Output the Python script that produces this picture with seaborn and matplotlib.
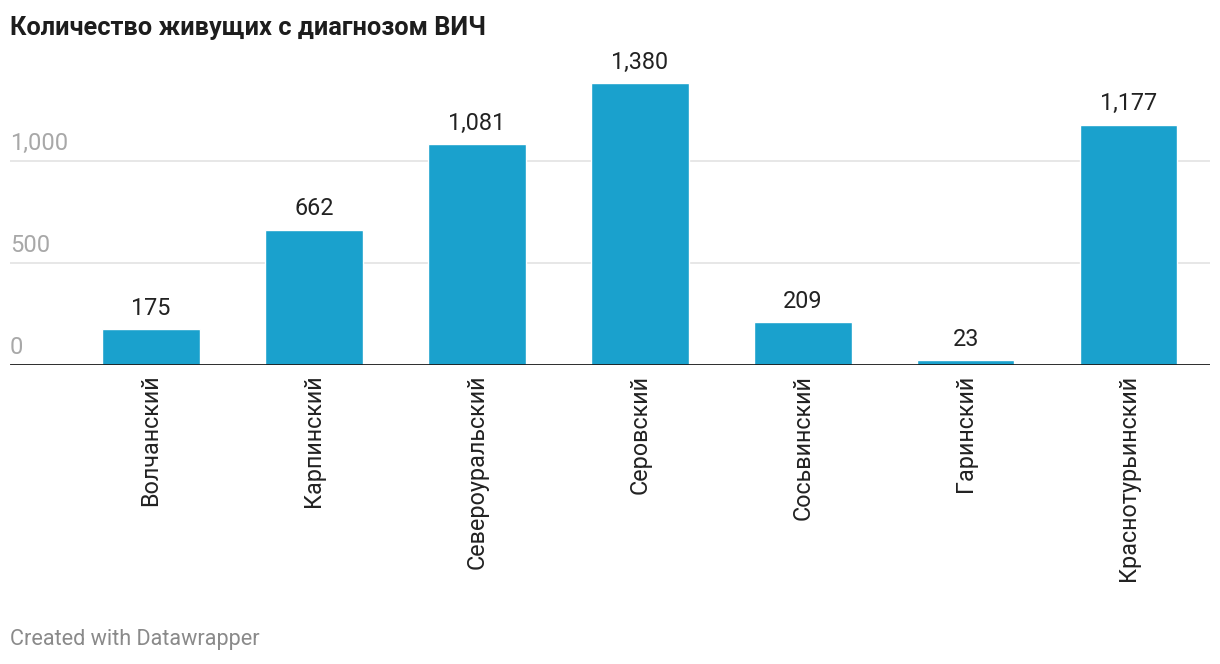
import pandas as pd
import matplotlib
matplotlib.use("Agg")
import matplotlib.pyplot as plt
import seaborn as sns

# данные
districts = ["Волчанский", "Карпинский", "Североуральский", "Серовский",
             "Сосьвинский", "Гаринский", "Краснотурьинский"]
values = [175, 662, 1081, 1380, 209, 23, 1177]
y_ticks = [0, 500, 1000]
y_tick_labels = ["0", "500", "1,000"]

df = pd.DataFrame({"district": districts, "value": values})

sns.set_style("white")
plt.rcParams["font.family"] = ["Roboto", "DejaVu Sans"]

fig = plt.figure(figsize=(12.2, 6.64), dpi=100)
ax = fig.add_axes([10 / 1220, 1 - 365 / 664, 1200 / 1220, 315 / 664])

sns.barplot(data=df, x="district", y="value", color="#1aa1cd", width=0.6,
            saturation=1, ax=ax, zorder=3)

ax.set_xlim(-0.865, 6.5)
ax.set_ylim(0, 1544)

# сетка и подписи оси Y внутри поля графика
for t, lab in zip(y_ticks, y_tick_labels):
    if t > 0:
        ax.axhline(t, color="#e3e3e3", lw=1.2, zorder=1)
    ax.annotate(lab, xy=(0, t), xycoords=("axes fraction", "data"),
                xytext=(0, 4), textcoords="offset points",
                ha="left", va="bottom", fontsize=17, color="#a8a8a8")
ax.axhline(0, color="#1a1a1a", lw=2, zorder=4)

# подписи значений
for i, v in enumerate(values):
    ax.annotate(f"{v:,}", xy=(i, v), xytext=(0, 7), textcoords="offset points",
                ha="center", va="bottom", fontsize=16.8, color="#222222")

ax.set_yticks([])
ax.set_xlabel("")
ax.set_ylabel("")
ax.tick_params(axis="x", length=0, pad=7)
ax.set_xticks(range(len(districts)))
ax.set_xticklabels(districts, rotation=90, ha="center", va="top",
                   fontsize=16.8, color="#222222")
for s in ax.spines.values():
    s.set_visible(False)

fig.text(10 / 1220, 1 - 28 / 664, "Количество живущих с диагнозом ВИЧ",
         fontsize=18.3, fontweight="bold", color="#1d1d1d", ha="left", va="center")
fig.text(10 / 1220, 1 - 640 / 664, "Created with Datawrapper",
         fontsize=15.6, color="#8a8a8a", ha="left", va="center")

fig.savefig("out.png", dpi=100)
